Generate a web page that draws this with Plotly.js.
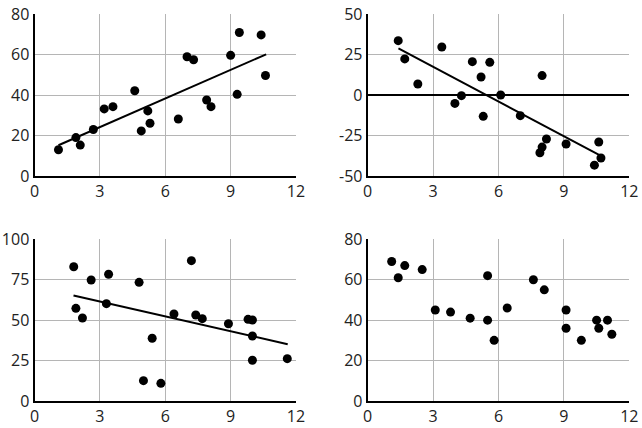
<!DOCTYPE html>
<html><head><meta charset="utf-8">
<script src="https://cdn.plot.ly/plotly-3.0.1.min.js"></script>
<style>html,body{margin:0;padding:0;background:#fff}#chart{width:642px;height:428px}</style>
</head><body><div id="chart"></div>
<script>
// Panel A (top-left)
const aX = [1.1,1.9,2.1,2.7,3.2,3.6,4.6,4.9,5.2,5.3,6.6,7.0,7.3,7.9,8.1,9.0,9.3,9.4,10.4,10.6];
const aY = [13,19,15.3,23,33.2,34.3,42.2,22.3,32.2,26.1,28.2,59,57.5,37.6,34.3,59.7,40.4,71,69.8,49.7];
const aTrendX = [1.1,10.63];
const aTrendY = [15.2,60.2];
// Panel B (top-right)
const bX = [1.4,1.7,2.3,3.4,4.0,4.3,4.8,5.2,5.3,5.6,6.1,7.0,8.0,7.9,8.0,8.2,9.1,10.4,10.6,10.7];
const bY = [33.7,22.4,6.9,29.8,-5.1,-0.3,20.7,11.2,-13.1,20.3,0.1,-12.7,12.1,-35.6,-32.1,-27.1,-30.2,-43.3,-29,-38.9];
const bTrendX = [1.41,10.7];
const bTrendY = [29,-37.6];
// Panel C (bottom-left)
const cX = [1.8,1.9,2.2,2.6,3.3,3.4,4.8,5.0,5.4,5.8,6.4,7.2,7.4,7.7,8.9,9.8,10.0,10.0,10.0,11.6];
const cY = [83,57.3,51.3,74.8,60.2,78.4,73.4,12.6,38.8,10.9,53.8,86.8,53.2,50.9,47.8,50.5,50.1,40.2,25.2,26.2];
const cTrendX = [1.79,11.62];
const cTrendY = [65.2,35.1];
// Panel D (bottom-right)
const dX = [1.1,1.4,1.7,2.5,3.1,3.8,4.7,5.5,5.5,5.8,6.4,7.6,8.1,9.1,9.1,9.8,10.5,10.6,11.0,11.2];
const dY = [69,61,67,65,45,44,41,62,40,30,46,60,55,45,36,30,40,36,40,33];

const xTicks = [0,3,6,9,12];
const yTicksA = [0,20,40,60,80];
const yTicksB = [-50,-25,0,25,50];
const yTicksC = [0,25,50,75,100];
const yTicksD = [0,20,40,60,80];

function pts(x,y,xa,ya){return {x:x,y:y,xaxis:xa,yaxis:ya,type:'scatter',mode:'markers',marker:{color:'#000',size:9},hoverinfo:'skip',cliponaxis:false};}
function line(x,y,xa,ya){return {x:x,y:y,xaxis:xa,yaxis:ya,type:'scatter',mode:'lines',line:{color:'#000',width:2},hoverinfo:'skip'};}

const data = [
  line(aTrendX,aTrendY,'x','y'), pts(aX,aY,'x','y'),
  line(bTrendX,bTrendY,'x2','y2'), pts(bX,bY,'x2','y2'),
  line(cTrendX,cTrendY,'x3','y3'), pts(cX,cY,'x3','y3'),
  pts(dX,dY,'x4','y4')
];

function xa(dom,anchor){return {domain:dom,anchor:anchor,range:[0,12],tickvals:xTicks,ticktext:xTicks.map(String),showline:true,linecolor:'#000',linewidth:2,gridcolor:'#b5b5b5',gridwidth:1,zeroline:false,ticks:'',ticklen:0,fixedrange:true};}
function ya(dom,anchor,ticks){return {domain:dom,anchor:anchor,range:[ticks[0],ticks[ticks.length-1]],tickvals:ticks,ticktext:ticks.map(String),showline:true,linecolor:'#000',linewidth:2,gridcolor:'#b5b5b5',gridwidth:1,zeroline:false,ticks:'',fixedrange:true};}

const L = [34.5/642, 296/642], R = [367.7/642, 629.3/642];
const T = [1-176/428, 1-14.3/428], B = [1-401/428, 1-239.3/428];

const yb = ya(T,'x2',yTicksB);
yb.zeroline = true; yb.zerolinecolor = '#000'; yb.zerolinewidth = 2;

const layout = {
  width:642,height:428,margin:{l:0,r:0,t:0,b:0},
  paper_bgcolor:'#fff',plot_bgcolor:'#fff',showlegend:false,
  font:{family:'Open Sans, Noto Sans, sans-serif',size:16,color:'#222'},
  xaxis:xa(L,'y'), yaxis:ya(T,'x',yTicksA),
  xaxis2:xa(R,'y2'), yaxis2:yb,
  xaxis3:xa(L,'y3'), yaxis3:ya(B,'x3',yTicksC),
  xaxis4:xa(R,'y4'), yaxis4:ya(B,'x4',yTicksD)
};
Plotly.newPlot('chart',data,layout,{staticPlot:true,displayModeBar:false});
</script></body></html>
